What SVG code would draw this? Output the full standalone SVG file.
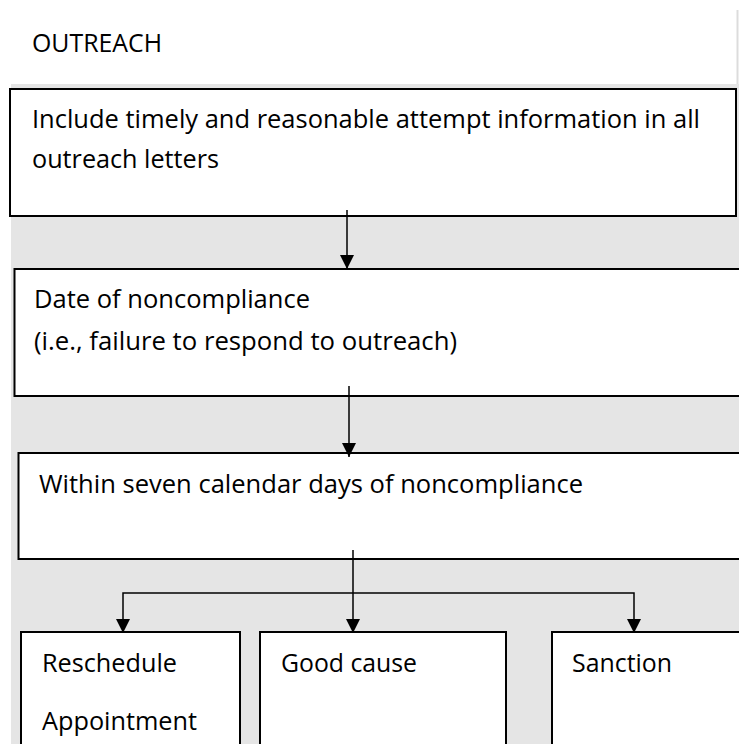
<svg xmlns="http://www.w3.org/2000/svg" width="739" height="744" viewBox="0 0 739 744">
<style>
.bg{fill:#e5e5e5}
.box{fill:#ffffff;stroke:#000000;stroke-width:2}
.t{font-family:"Open Sans","Noto Sans","Liberation Sans",sans-serif;font-size:25px;fill:#000000}
.c{stroke:#000000;stroke-width:1.5;fill:none}
</style>
<defs>
<marker id="ah" markerUnits="userSpaceOnUse" markerWidth="14" markerHeight="14" viewBox="0 0 14 14" refX="14" refY="7" orient="auto-start-reverse">
<path d="M0,0 L14,7 L0,14 Z" fill="#000000"/>
</marker>
</defs>
<rect x="0" y="0" width="739" height="744" fill="#ffffff"/>
<rect class="bg" x="11" y="84" width="728" height="660"/>
<line x1="737.5" y1="10" x2="737.5" y2="84" stroke="#dcdcdc" stroke-width="2"/>
<text class="t" x="32" y="52" textLength="130" lengthAdjust="spacingAndGlyphs">OUTREACH</text>

<g id="n1">
<rect class="box" x="10" y="89" width="726" height="127"/>
<text class="t" x="32" y="128" textLength="668" lengthAdjust="spacingAndGlyphs">Include timely and reasonable attempt information in all</text>
<text class="t" x="32" y="168" textLength="187" lengthAdjust="spacingAndGlyphs">outreach letters</text>
</g>
<g id="n2">
<rect class="box" x="14.5" y="269" width="730" height="127"/>
<text class="t" x="34" y="308" textLength="276" lengthAdjust="spacingAndGlyphs">Date of noncompliance</text>
<text class="t" x="34" y="350" textLength="423" lengthAdjust="spacingAndGlyphs">(i.e., failure to respond to outreach)</text>
</g>
<g id="n3">
<rect class="box" x="18.5" y="453" width="730" height="106"/>
<text class="t" x="39" y="493" textLength="544" lengthAdjust="spacingAndGlyphs">Within seven calendar days of noncompliance</text>
</g>
<g id="n4">
<rect class="box" x="21" y="632" width="219" height="130"/>
<text class="t" x="42" y="672" textLength="135" lengthAdjust="spacingAndGlyphs">Reschedule</text>
<text class="t" x="42" y="730" textLength="155" lengthAdjust="spacingAndGlyphs">Appointment</text>
</g>
<g id="n5">
<rect class="box" x="260" y="632" width="246" height="130"/>
<text class="t" x="281" y="672" textLength="136" lengthAdjust="spacingAndGlyphs">Good cause</text>
</g>
<g id="n6">
<rect class="box" x="552" y="632" width="200" height="130"/>
<text class="t" x="572" y="672" textLength="100" lengthAdjust="spacingAndGlyphs">Sanction</text>
</g>

<g id="connectors">
<line class="c" x1="347" y1="210" x2="347" y2="269" marker-end="url(#ah)"/>
<line class="c" x1="349" y1="386" x2="349" y2="457" marker-end="url(#ah)"/>
<line class="c" x1="353" y1="550" x2="353" y2="633" marker-end="url(#ah)"/>
<polyline class="c" points="123,633 123,593 634,593 634,633" marker-start="url(#ah)" marker-end="url(#ah)"/>
</g>
</svg>
